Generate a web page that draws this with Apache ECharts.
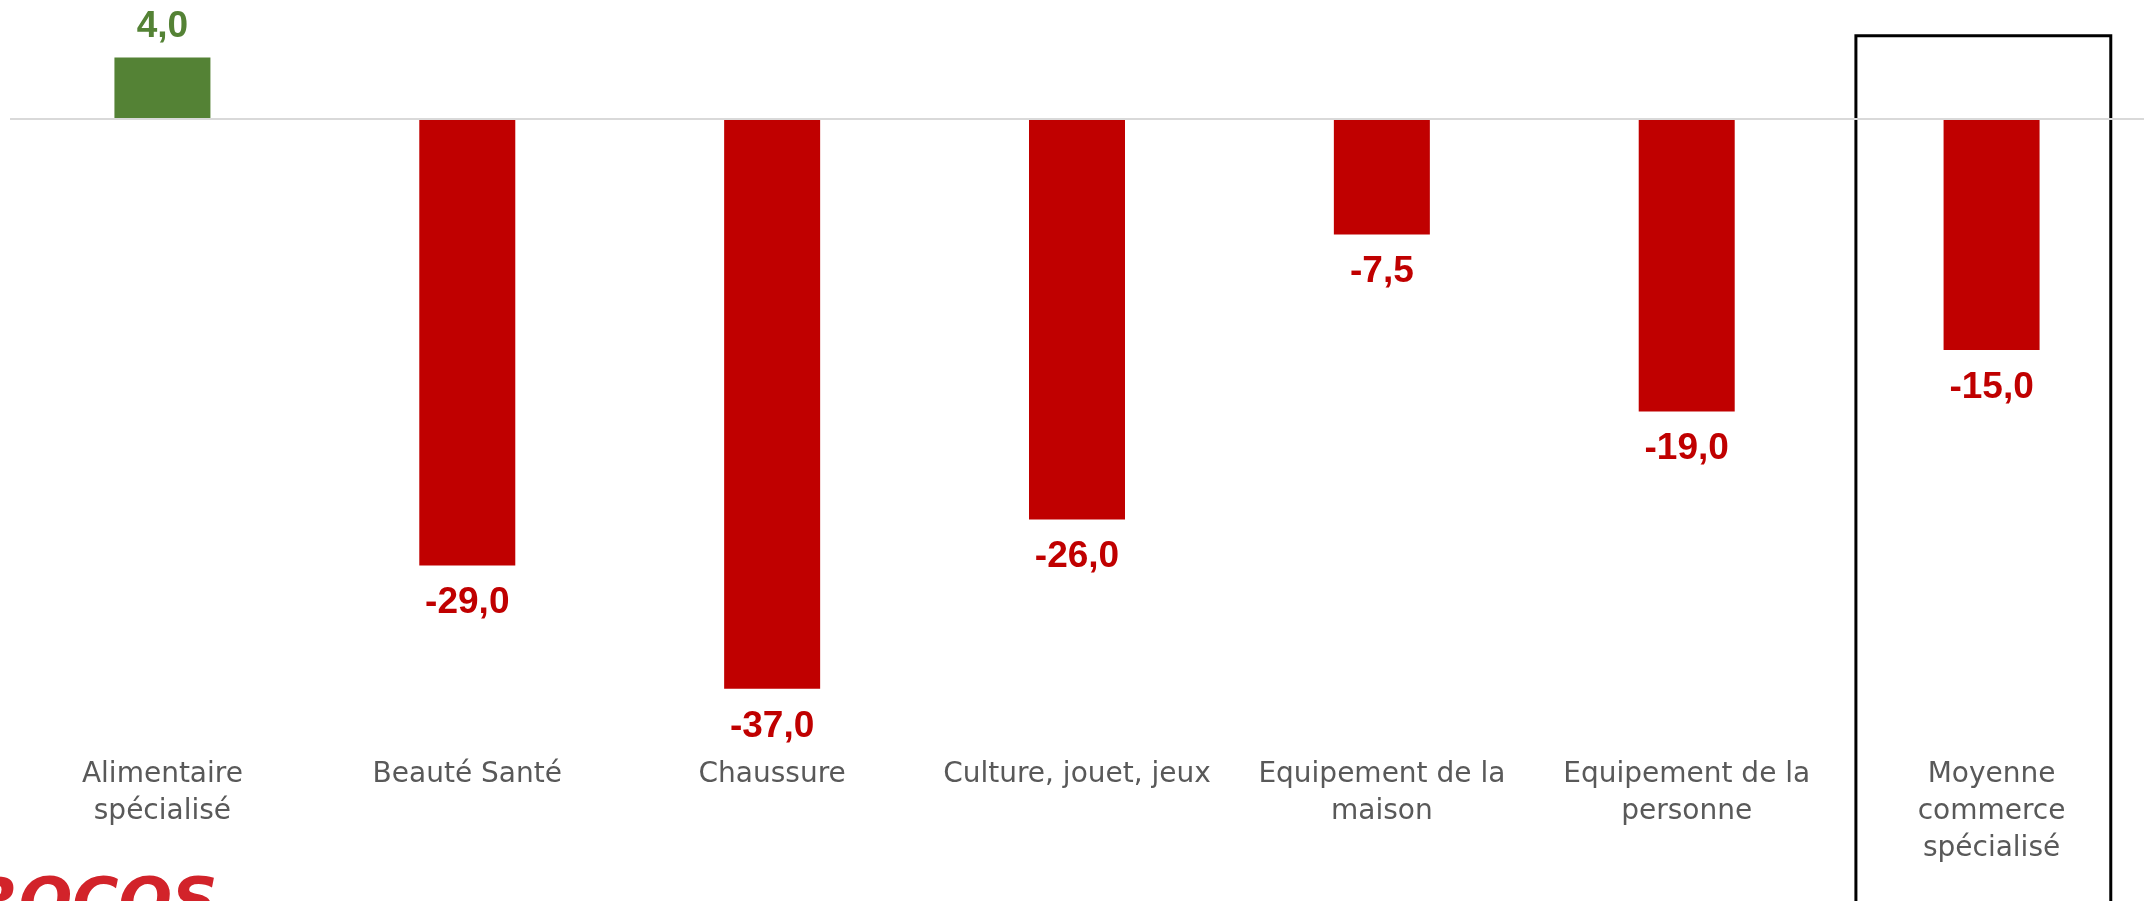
<!DOCTYPE html>
<html>
<head>
<meta charset="utf-8">
<script src="https://cdn.jsdelivr.net/npm/echarts@6/dist/echarts.min.js"></script>
<style>
  html, body { margin: 0; padding: 0; background: #fff; }
  #main { width: 2151px; height: 901px; }
</style>
</head>
<body>
<div id="main"></div>
<script>
// categories and values
const categories = [
  'Alimentaire\nspécialisé',
  'Beauté Santé',
  'Chaussure',
  'Culture, jouet, jeux',
  'Equipement de la\nmaison',
  'Equipement de la\npersonne',
  'Moyenne\ncommerce\nspécialisé'
];
const values = [4.0, -29.0, -37.0, -26.0, -7.5, -19.0, -15.0];

const GREEN = '#548235';
const RED = '#c00000';

const chart = echarts.init(document.getElementById('main'), null, { renderer: 'canvas' });

const barData = values.map(v => ({
  value: v,
  itemStyle: { color: v >= 0 ? GREEN : RED },
  label: {
    position: v >= 0 ? 'top' : 'bottom',
    distance: v >= 0 ? 12 : 19,
    color: v >= 0 ? GREEN : RED
  }
}));

const option = {
  backgroundColor: '#ffffff',
  animation: false,
  grid: { left: 10, right: 7, top: 42, bottom: 166, containLabel: false },
  xAxis: {
    type: 'category',
    data: categories,
    axisLine: { show: false, onZero: false },
    axisTick: { show: false },
    splitLine: { show: false },
    axisLabel: {
      interval: 0,
      margin: 21,
      color: '#595959',
      fontFamily: "'Century Gothic', 'URW Gothic', 'DejaVu Sans', sans-serif",
      fontSize: 28,
      lineHeight: 37
    }
  },
  yAxis: {
    type: 'value',
    min: -40,
    max: 5,
    show: false,
    splitLine: { show: false }
  },
  series: [{
    type: 'bar',
    data: barData,
    barWidth: 96,
    label: {
      show: true,
      fontFamily: "'Liberation Sans', Arial, sans-serif",
      fontWeight: 'bold',
      fontSize: 37,
      formatter: p => p.value.toFixed(1).replace('.', ',')
    },
    markLine: {
      silent: true,
      symbol: 'none',
      label: { show: false },
      lineStyle: { color: '#d9d9d9', width: 2, type: 'solid' },
      data: [{ yAxis: 0 }]
    }
  }]
};

chart.setOption(option);

// box around the average column + logo
function drawExtras() {
  const last = categories[categories.length - 1];
  const c = chart.convertToPixel({ xAxisIndex: 0, yAxisIndex: 0 }, [last, 0]);
  const p0 = chart.convertToPixel({ xAxisIndex: 0 }, categories[0]);
  const p1 = chart.convertToPixel({ xAxisIndex: 0 }, categories[1]);
  const band = p1 - p0;
  const halfW = band * 0.418;
  const cx = c[0] - band * 0.027;
  const topY = chart.convertToPixel({ yAxisIndex: 0 }, 5.4);
  chart.setOption({
    graphic: [
      {
        type: 'rect',
        silent: true,
        shape: { x: cx - halfW, y: topY, width: halfW * 2, height: 1000 },
        style: { fill: 'none', stroke: '#000000', lineWidth: 3 }
      },
      {
        type: 'text',
        silent: true,
        left: -76,
        top: 874,
        style: {
          text: 'PROCOS',
          font: 'italic 900 63px "DejaVu Sans", sans-serif',
          fill: '#d2232a',
          textShadowColor: '#2a2a2a',
          textShadowOffsetX: 3,
          textShadowOffsetY: 2,
          textShadowBlur: 0
        }
      }
    ]
  });
}
drawExtras();

window.addEventListener('resize', () => {
  chart.resize();
  drawExtras();
});
</script>
</body>
</html>
